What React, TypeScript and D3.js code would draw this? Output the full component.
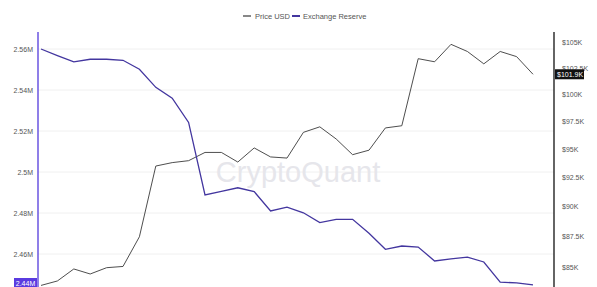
import React from "react";
import * as d3 from "d3";

const W = 597;
const H = 287;

const reserve = [
  2.5600, 2.5568, 2.5537, 2.5550, 2.5550, 2.5545, 2.5501, 2.5413, 2.5360, 2.5242,
  2.4888, 2.4906, 2.4923, 2.4904, 2.4810, 2.4829, 2.4801, 2.4753, 2.4769, 2.4769,
  2.4701, 2.4623, 2.4639, 2.4634, 2.4566, 2.4576, 2.4585, 2.4561, 2.4463, 2.4459,
  2.4449,
];

const price = [
  83.6, 83.95, 84.9, 84.5, 85.0, 85.1, 87.5, 93.5, 93.8, 93.97,
  94.7, 94.7, 93.85, 95.1, 94.3, 94.2, 96.5, 97.0, 95.9, 94.5,
  94.9, 96.9, 97.1, 103.4, 103.1, 104.8, 104.1, 102.9, 104.1, 103.6,
  101.9,
];

const leftTicks = [2.46, 2.48, 2.5, 2.52, 2.54, 2.56];
const leftTickLabels = ["2.46M", "2.48M", "2.5M", "2.52M", "2.54M", "2.56M"];
const rightTicks = [85, 87.5, 90, 92.5, 95, 97.5, 100, 102.5, 105];
const rightTickLabels = ["$85K", "$87.5K", "$90K", "$92.5K", "$95K", "$97.5K", "$100K", "$102.5K", "$105K"];
const seriesNames = ["Price USD", "Exchange Reserve"];

const PRICE_COLOR = "#3a3a3a";
const RES_COLOR = "#43369f";
const AXIS_PURPLE = "#6a55e0";
const TEXT = "#555";
const FONT = "Liberation Sans, Arial, sans-serif";

export default function App() {
  const idx = d3.range(price.length);
  const x = d3.scalePoint<number>().domain(idx).range([41, 533]);
  const yL = d3.scaleLinear().domain([2.44, 2.56]).range([295, 49]);
  const yR = d3.scaleLog().domain([85, 105]).range([267.7, 42.3]);

  const resLine = d3
    .line<number>()
    .x((_, i) => x(i)!)
    .y((d) => yL(d));
  const priceLine = d3
    .line<number>()
    .x((_, i) => x(i)!)
    .y((d) => yR(d));

  const lastPrice = price[price.length - 1];
  const lastRes = reserve[reserve.length - 1];
  const resLabelY = Math.min(yL(lastRes), H - 4);

  return (
    <svg
      width={W}
      height={H}
      style={{ position: "absolute", left: 0, top: 0, background: "#fff" }}
      fontFamily={FONT}
    >
      {/* gridlines */}
      {leftTicks.map((t) => (
        <line key={"g" + t} x1={38} x2={554} y1={yL(t)} y2={yL(t)} stroke="#f0f0f0" strokeWidth={1} />
      ))}

      {/* watermark */}
      <text x={298} y={182} textAnchor="middle" fontSize={29} fill="#e6e6eb" fontFamily={FONT}>
        CryptoQuant
      </text>

      {/* legend */}
      <line x1={243} x2={251} y1={16} y2={16} stroke={PRICE_COLOR} strokeWidth={1.2} />
      <text x={255} y={18.5} fontSize={7.5} fill={TEXT}>{seriesNames[0]}</text>
      <line x1={292} x2={300} y1={16} y2={16} stroke={RES_COLOR} strokeWidth={2} />
      <text x={303} y={18.5} fontSize={7.5} fill={TEXT}>{seriesNames[1]}</text>

      {/* lines */}
      <path d={priceLine(price) || ""} fill="none" stroke={PRICE_COLOR} strokeWidth={0.9} />
      <path d={resLine(reserve) || ""} fill="none" stroke={RES_COLOR} strokeWidth={1.3} />

      {/* left axis */}
      <line x1={38} x2={38} y1={32} y2={H} stroke={AXIS_PURPLE} strokeWidth={1.5} />
      {leftTicks.map((t, i) => (
        <text key={"l" + t} x={33} y={yL(t) + 2.5} textAnchor="end" fontSize={7} fill={TEXT}>
          {leftTickLabels[i]}
        </text>
      ))}
      <rect x={14} y={resLabelY - 5} width={23} height={11} fill="#5a3be0" />
      <text x={25.5} y={resLabelY + 2.5} textAnchor="middle" fontSize={7} fill="#fff">
        {lastRes.toFixed(2)}M
      </text>

      {/* right axis */}
      <line x1={554} x2={554} y1={32} y2={H} stroke="#111" strokeWidth={1.3} />
      {rightTicks.map((t, i) => (
        <text key={"r" + t} x={562} y={yR(t) + 2.5} fontSize={7} fill={TEXT}>
          {rightTickLabels[i]}
        </text>
      ))}
      <rect x={555} y={yR(lastPrice) - 5} width={29} height={10} fill="#111" />
      <text x={557} y={yR(lastPrice) + 2.5} fontSize={7} fill="#fff">
        ${lastPrice.toFixed(1)}K
      </text>
    </svg>
  );
}
